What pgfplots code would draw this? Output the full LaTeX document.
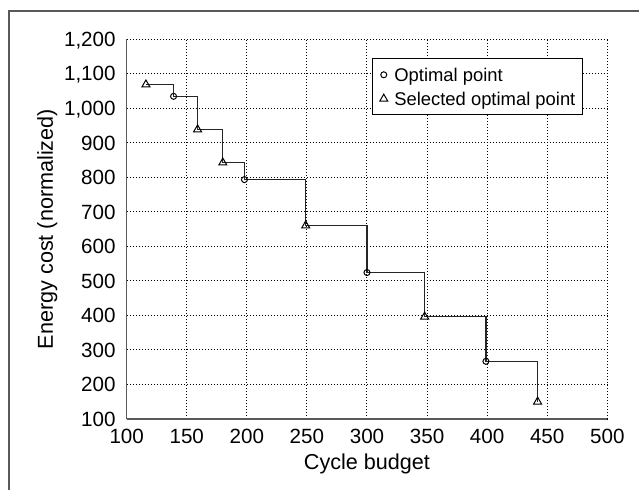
\documentclass[border=0pt]{standalone}
\usepackage{pgfplots}
\pgfplotsset{compat=1.18}
\usepackage{fontspec}
\setmainfont{Liberation Sans}
\begin{document}
\begin{tikzpicture}[x=1pt,y=1pt]
\useasboundingbox (0,0) rectangle (319.5,244.5);
\draw[black!65, line width=0.75pt] (4.5,-2) -- (4.5,239) -- (322,239);
\begin{axis}[
  at={(63.35pt,35pt)}, anchor=south west,
  scale only axis, width=240.3pt, height=190pt,
  xmin=100, xmax=500, ymin=100, ymax=1200,
  xtick={100,150,...,500}, ytick={100,200,...,1200},
  grid=major,
  grid style={black, line width=0.5pt, dash pattern=on 0.5pt off 1pt},
  axis lines*=left,
  axis line style={black!65, line width=0.75pt},
  major tick length=0pt,
  tick label style={font=\fontsize{10.3}{12}\selectfont},
  /pgf/number format/assume math mode=true,
  /pgf/number format/1000 sep={,},
  xticklabel style={anchor=base, yshift=-12.5pt},
  yticklabel style={anchor=base east, inner sep=0pt, xshift=-5.35pt, yshift=-3.69pt},
  xlabel={Cycle budget},
  ylabel={Energy cost (normalized)},
  label style={font=\fontsize{10.8}{13}\selectfont},
  xlabel style={at={(axis description cs:0.5,-0.1342)}, anchor=base},
  ylabel style={at={(axis description cs:-0.1534,0.5)}, anchor=base},
  legend style={at={(0.511,0.949)}, anchor=north west, draw=black, line width=0.5pt,
    font=\fontsize{9.2}{11}\selectfont, cells={anchor=west},
    nodes={inner xsep=0pt, inner ysep=0pt, text height=7.8pt, text depth=0.9pt},
    inner xsep=3.5pt, inner ysep=3.6pt, row sep=3.3pt, column sep=3.3pt},
  legend image code/.code={\draw[mark repeat=2,mark phase=2,#1] plot coordinates {(0pt,0pt)(2.85pt,0pt)(5.7pt,0pt)};},
]
\addplot[const plot, black!85, line width=0.6pt, mark=none, forget plot] coordinates {
  (116,1068) (139,1034) (159,938) (180,842) (198,793) (249,660) (300,524) (348,396) (399,267) (442,150)
};
\addplot[only marks, mark=o, mark size=1.5pt, black, mark options={line width=0.5pt}] coordinates {
  (139,1034) (198,793) (300,524) (399,267)
};
\addplot[only marks, mark=triangle, mark size=2.3pt, black, mark options={line width=0.5pt}] coordinates {
  (116,1068) (159,938) (180,842) (249,660) (348,396) (442,150)
};
\legend{Optimal point, Selected optimal point}
\end{axis}
\end{tikzpicture}
\end{document}
